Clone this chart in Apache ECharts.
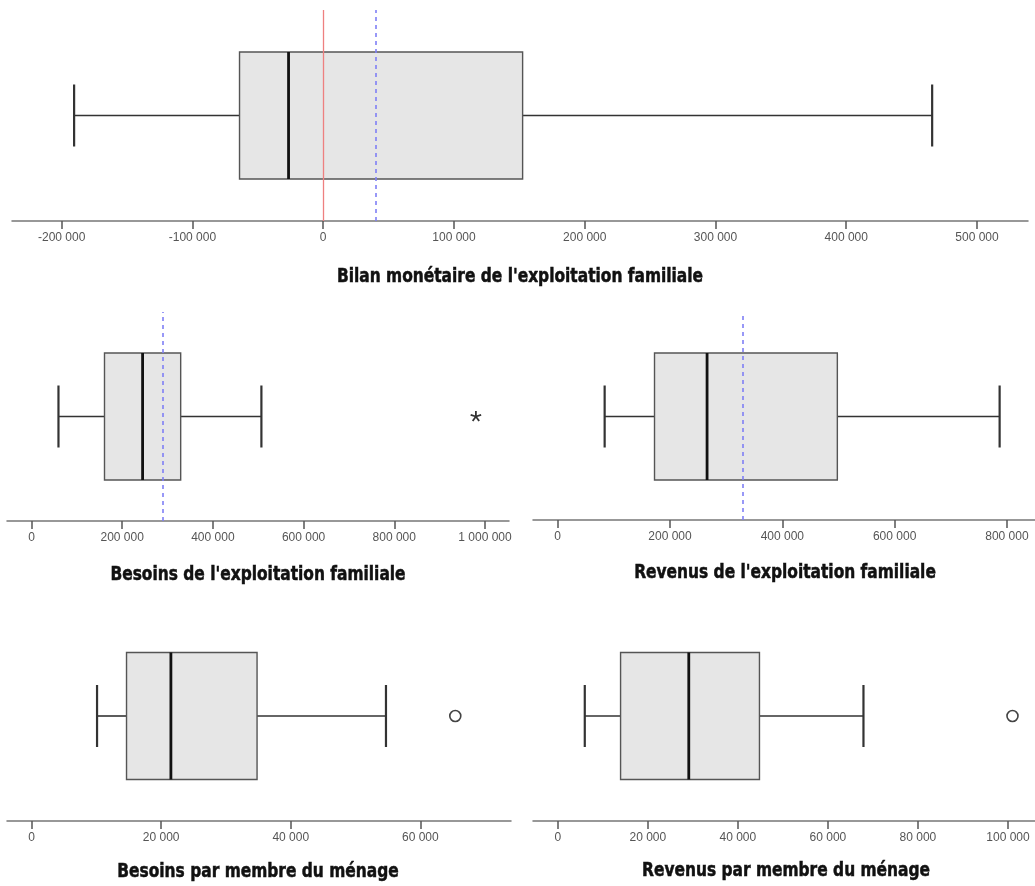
<!DOCTYPE html>
<html>
<head>
<meta charset="utf-8">
<title>Exploitations familiales — boîtes à moustaches</title>
<script src="https://cdn.jsdelivr.net/npm/echarts@6/dist/echarts.min.js"></script>
<style>
  html, body { margin: 0; padding: 0; background: #ffffff; }
  #chart { width: 1035px; height: 886px; }
</style>
</head>
<body>
<div id="chart"></div>
<script>
// ---- Data (one entry per panel) ----
const panelTitles = [
  "Bilan monétaire de l'exploitation familiale",
  "Besoins de l'exploitation familiale",
  "Revenus de l'exploitation familiale",
  "Besoins par membre du ménage",
  "Revenus par membre du ménage"
];
const whiskerLow  = [-190500,  59500,  83600, 10100,  6000];
const quartile1   = [ -64000, 161000, 172400, 14650, 13950];
const medians     = [ -26500, 245000, 266000, 21500, 29100];
const quartile3   = [ 152500, 329000, 498000, 34800, 44800];
const whiskerHigh = [ 465700, 507000, 787000, 54700, 67900];
const meanValues  = [  40500, 289000, 329000,  null,  null];
const zeroLine    = [      0,   null,   null,  null,  null];
const outlierValues = [[], [980000], [], [65400], [101000]];
const outlierKinds  = ['', 'extreme', '', 'outlier', 'outlier'];
const tickValues = [
  [-200000, -100000, 0, 100000, 200000, 300000, 400000, 500000],
  [0, 200000, 400000, 600000, 800000, 1000000],
  [0, 200000, 400000, 600000, 800000],
  [0, 20000, 40000, 60000],
  [0, 20000, 40000, 60000, 80000, 100000]
];
const axisRanges = [
  [-238000, 539000],
  [-54000, 1053000],
  [-44000, 850000],
  [-3800, 74000],
  [-5500, 106000]
];

// ---- Layout ----
const grids = [
  { left: 12,  top: 10,  width: 1016, height: 211 },
  { left: 7,   top: 312, width: 502,  height: 209 },
  { left: 533, top: 313, width: 507,  height: 207 },
  { left: 7,   top: 611, width: 504,  height: 210 },
  { left: 533, top: 611, width: 507,  height: 210 }
];
// centre of each panel caption (x, y)
const captionPos = [[520, 277], [258, 575], [785, 573], [258, 872], [786, 871]];
const BOX_HEIGHT = 127;
const CAP_LENGTH = 62;

function fmt(v) {
  const s = Math.abs(Math.round(v)).toString().replace(/\B(?=(\d{3})+(?!\d))/g, ' ');
  return (v < 0 ? '-' : '') + s;
}

function renderBox(params, api) {
  const yc = api.coord([0, 0])[1];
  const xs = [0, 1, 2, 3, 4].map(i => api.coord([api.value(i), 0])[0]);
  const half = BOX_HEIGHT / 2, cap = CAP_LENGTH / 2;
  const whisker = { stroke: '#333', lineWidth: 1.6 };
  const capStyle = { stroke: '#333', lineWidth: 2.2 };
  return {
    type: 'group',
    children: [
      { type: 'line', shape: { x1: xs[0], y1: yc, x2: xs[1], y2: yc }, style: whisker },
      { type: 'line', shape: { x1: xs[3], y1: yc, x2: xs[4], y2: yc }, style: whisker },
      { type: 'line', shape: { x1: xs[0], y1: yc - cap, x2: xs[0], y2: yc + cap }, style: capStyle },
      { type: 'line', shape: { x1: xs[4], y1: yc - cap, x2: xs[4], y2: yc + cap }, style: capStyle },
      { type: 'rect', shape: { x: xs[1], y: yc - half, width: xs[3] - xs[1], height: BOX_HEIGHT },
        style: { fill: '#e6e6e6', stroke: '#555', lineWidth: 1.4 } },
      { type: 'line', shape: { x1: xs[2], y1: yc - half, x2: xs[2], y2: yc + half },
        style: { stroke: '#111', lineWidth: 2.8 } }
    ]
  };
}

function renderOutlier(kind) {
  return function (params, api) {
    const p = api.coord([api.value(0), 0]);
    if (kind === 'outlier') {
      return { type: 'circle', shape: { cx: p[0], cy: p[1], r: 5.5 },
        style: { fill: '#fff', stroke: '#444', lineWidth: 1.6 } };
    }
    // extreme value: small five-armed asterisk
    const arms = [];
    const r = 5.5;
    for (let k = 0; k < 5; k++) {
      const a = -Math.PI / 2 + k * 2 * Math.PI / 5;
      arms.push({ type: 'line',
        shape: { x1: p[0], y1: p[1], x2: p[0] + r * Math.cos(a), y2: p[1] + r * Math.sin(a) },
        style: { stroke: '#333', lineWidth: 1.8 } });
    }
    return { type: 'group', children: arms };
  };
}

const grid = [], xAxis = [], yAxis = [], series = [], graphic = [];
panelTitles.forEach((title, i) => {
  grid.push(grids[i]);
  xAxis.push({
    gridIndex: i,
    type: 'value',
    min: axisRanges[i][0],
    max: axisRanges[i][1],
    splitLine: { show: false },
    axisLine: { show: true, onZero: false, lineStyle: { color: '#777', width: 1.5 } },
    axisTick: { show: true, length: 8, customValues: tickValues[i],
      lineStyle: { color: '#555', width: 1.5 } },
    axisLabel: { show: true, customValues: tickValues[i], formatter: fmt, margin: 11,
      fontFamily: "'Liberation Sans', Arial, sans-serif", fontSize: 12, color: '#555' }
  });
  yAxis.push({ gridIndex: i, type: 'value', min: -1, max: 1, show: false });

  // panel caption, bold and condensed
  graphic.push({
    type: 'text',
    x: captionPos[i][0],
    y: captionPos[i][1],
    scaleX: 0.858,
    silent: true,
    style: {
      text: title,
      align: 'center',
      verticalAlign: 'middle',
      font: "bold 20px 'DejaVu Sans Condensed', 'DejaVu Sans', sans-serif",
      fill: '#111',
      stroke: '#111',
      lineWidth: 0.5
    }
  });

  const lines = [];
  if (zeroLine[i] !== null) {
    lines.push({ xAxis: zeroLine[i], lineStyle: { color: '#ee8080', width: 1.3, type: 'solid' } });
  }
  if (meanValues[i] !== null) {
    lines.push({ xAxis: meanValues[i], lineStyle: { color: '#7f7ff5', width: 1.6, type: [4, 4] } });
  }
  series.push({
    type: 'custom',
    xAxisIndex: i, yAxisIndex: i,
    renderItem: renderBox,
    encode: { x: [0, 1, 2, 3, 4], y: 5 },
    data: [[whiskerLow[i], quartile1[i], medians[i], quartile3[i], whiskerHigh[i], 0]],
    silent: true,
    markLine: {
      silent: true, symbol: 'none', label: { show: false },
      data: lines
    }
  });
  if (outlierValues[i].length) {
    series.push({
      type: 'custom',
      xAxisIndex: i, yAxisIndex: i,
      renderItem: renderOutlier(outlierKinds[i]),
      encode: { x: 0, y: 1 },
      data: outlierValues[i].map(v => [v, 0]),
      silent: true
    });
  }
});

const chart = echarts.init(document.getElementById('chart'), null, { renderer: 'canvas' });
chart.setOption({ animation: false, backgroundColor: '#ffffff', grid, xAxis, yAxis, series, graphic });
</script>
</body>
</html>
